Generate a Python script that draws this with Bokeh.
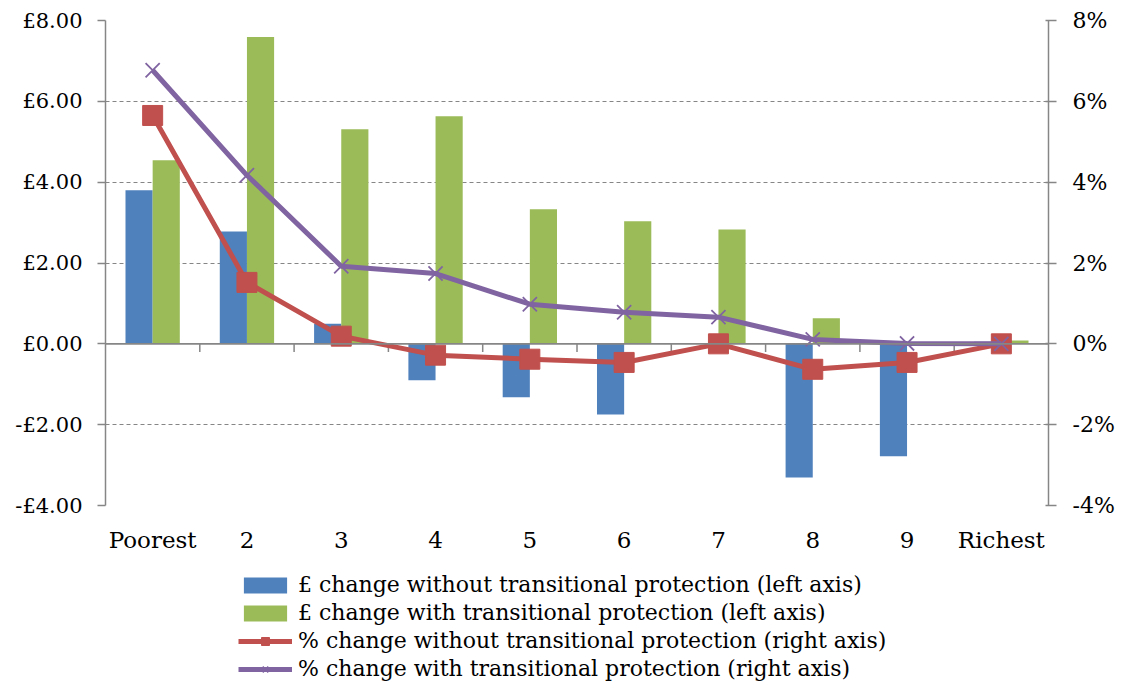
from bokeh.plotting import figure
from bokeh.layouts import column
from bokeh.models import (ColumnDataSource, FactorRange, Range1d, LinearAxis, FixedTicker,
                          CustomJSTickFormatter, Span, Legend, LegendItem)
from bokeh.transform import dodge
from bokeh.embed import file_html
from bokeh.resources import INLINE

categories = ["Poorest", "2", "3", "4", "5", "6", "7", "8", "9", "Richest"]
gbp_without = [3.80, 2.78, 0.50, -0.90, -1.32, -1.75, 0.0, -3.31, -2.78, 0.05]
gbp_with = [4.54, 7.59, 5.31, 5.63, 3.33, 3.03, 2.83, 0.63, 0.0, 0.08]
pct_without = [5.65, 1.52, 0.19, -0.28, -0.38, -0.46, 0.0, -0.63, -0.46, 0.0]
pct_with = [6.77, 4.17, 1.92, 1.74, 0.98, 0.78, 0.66, 0.11, 0.01, 0.0]
y_ticks = [-4, -2, 0, 2, 4, 6, 8]
labels = ["£ change without transitional protection (left axis)",
          "£ change with transitional protection (left axis)",
          "% change without transitional protection (right axis)",
          "% change with transitional protection (right axis)"]

FONT = "DejaVu Serif"
FS = "22px"
GRAY = "#868686"
BLUE, GREEN, RED, PURPLE = "#4F81BD", "#9BBB59", "#C0504D", "#8064A2"

src = ColumnDataSource(dict(cat=categories, a=gbp_without, b=gbp_with,
                            c=pct_without, d=pct_with))
bsrc = ColumnDataSource(dict(cat=categories[:-1], y0=[0] * 9, y1=[-0.2] * 9))

p = figure(x_range=FactorRange(*categories, range_padding=0),
           y_range=Range1d(-4, 8), width=1120, height=560,
           min_border_left=105, min_border_right=72, min_border_top=20,
           min_border_bottom=55,
           output_backend="svg", toolbar_location=None)
p.extra_y_ranges = {"pct": Range1d(-4, 8)}
p.outline_line_color = None
p.background_fill_color = "white"
p.border_fill_color = "white"

p.xgrid.grid_line_color = None
p.ygrid.grid_line_color = GRAY
p.ygrid.grid_line_dash = "4 3"
p.ygrid.grid_line_width = 1.2
p.ygrid.ticker = FixedTicker(ticks=y_ticks)

# left axis
ya = p.yaxis[0]
ya.ticker = FixedTicker(ticks=y_ticks)
ya.formatter = CustomJSTickFormatter(
    code="return (tick < 0 ? '-' : '') + '£' + Math.abs(tick).toFixed(2);")
ya.axis_line_color = GRAY
ya.axis_line_width = 1.5
ya.major_tick_line_color = GRAY
ya.major_tick_line_width = 1.5
ya.major_tick_out = 8
ya.major_tick_in = 0
ya.minor_tick_line_color = None
ya.major_label_text_font = FONT
ya.major_label_text_font_size = "21px"
ya.major_label_text_color = "black"
ya.major_label_standoff = 15

# right axis
ra = LinearAxis(y_range_name="pct", ticker=FixedTicker(ticks=y_ticks),
                formatter=CustomJSTickFormatter(code="return tick + '%';"))
ra.axis_line_color = GRAY
ra.axis_line_width = 1.5
ra.major_tick_line_color = GRAY
ra.major_tick_line_width = 1.5
ra.major_tick_out = 8
ra.major_tick_in = 3
ra.minor_tick_line_color = None
ra.major_label_text_font = FONT
ra.major_label_text_font_size = FS
ra.major_label_text_color = "black"
ra.major_label_standoff = 16
p.add_layout(ra, "right")

# x axis
xa = p.xaxis[0]
xa.axis_line_color = None
xa.major_tick_line_color = None
xa.minor_tick_line_color = None
xa.major_label_text_font = FONT
xa.major_label_text_font_size = "23px"
xa.major_label_text_color = "black"
xa.major_label_standoff = 15

# zero line with category boundary ticks
p.add_layout(Span(location=0, dimension="width", line_color=GRAY, line_width=1.8))
p.segment(x0=dodge("cat", 0.5, range=p.x_range), x1=dodge("cat", 0.5, range=p.x_range),
          y0="y0", y1="y1", source=bsrc, line_color=GRAY, line_width=1.5)

w = 0.288


def draw(fig, yr=None):
    kw = {} if yr is None else {"y_range_name": yr}
    ra_ = fig.vbar(x=dodge("cat", -w / 2, range=fig.x_range), top="a", bottom=0, width=w,
                   source=src, fill_color=BLUE, line_color=None)
    rb_ = fig.vbar(x=dodge("cat", w / 2, range=fig.x_range), top="b", bottom=0, width=w,
                   source=src, fill_color=GREEN, line_color=None)
    rc_ = fig.line(x="cat", y="c", source=src, line_color=RED, line_width=5, **kw)
    sc_ = fig.scatter(x="cat", y="c", source=src, marker="square", size=20,
                      fill_color=RED, line_color=RED, **kw)
    rd_ = fig.line(x="cat", y="d", source=src, line_color=PURPLE, line_width=5, **kw)
    sd_ = fig.scatter(x="cat", y="d", source=src, marker="x", size=20,
                      line_color=PURPLE, line_width=1.8, **kw)
    return ra_, rb_, rc_, sc_, rd_, sd_


draw(p, "pct")

# legend panel below the chart: same series, but its view window shows none of them
q = figure(width=1120, height=121, x_range=FactorRange(*categories, range_padding=0),
           y_range=Range1d(100, 101), x_axis_type=None, y_axis_type=None, min_border=0,
           output_backend="svg", toolbar_location=None)
q.outline_line_color = None
q.xgrid.grid_line_color = None
q.ygrid.grid_line_color = None
l_a, l_b, l_c, m_c, l_d, m_d = draw(q)

legend = Legend(items=[
    LegendItem(label=labels[0], renderers=[l_a]),
    LegendItem(label=labels[1], renderers=[l_b]),
    LegendItem(label=labels[2], renderers=[l_c, m_c]),
    LegendItem(label=labels[3], renderers=[l_d, m_d]),
], location=(133, 0), orientation="vertical")
legend.label_text_font = FONT
legend.label_text_font_size = FS
legend.label_text_color = "black"
legend.glyph_width = 54
legend.glyph_height = 20
legend.label_height = 24
legend.label_standoff = 6
legend.spacing = 3
legend.padding = 0
legend.margin = 0
legend.border_line_color = None
legend.background_fill_alpha = 0
q.add_layout(legend)

open("out.html", "w").write(file_html(column(p, q, spacing=0), INLINE))
